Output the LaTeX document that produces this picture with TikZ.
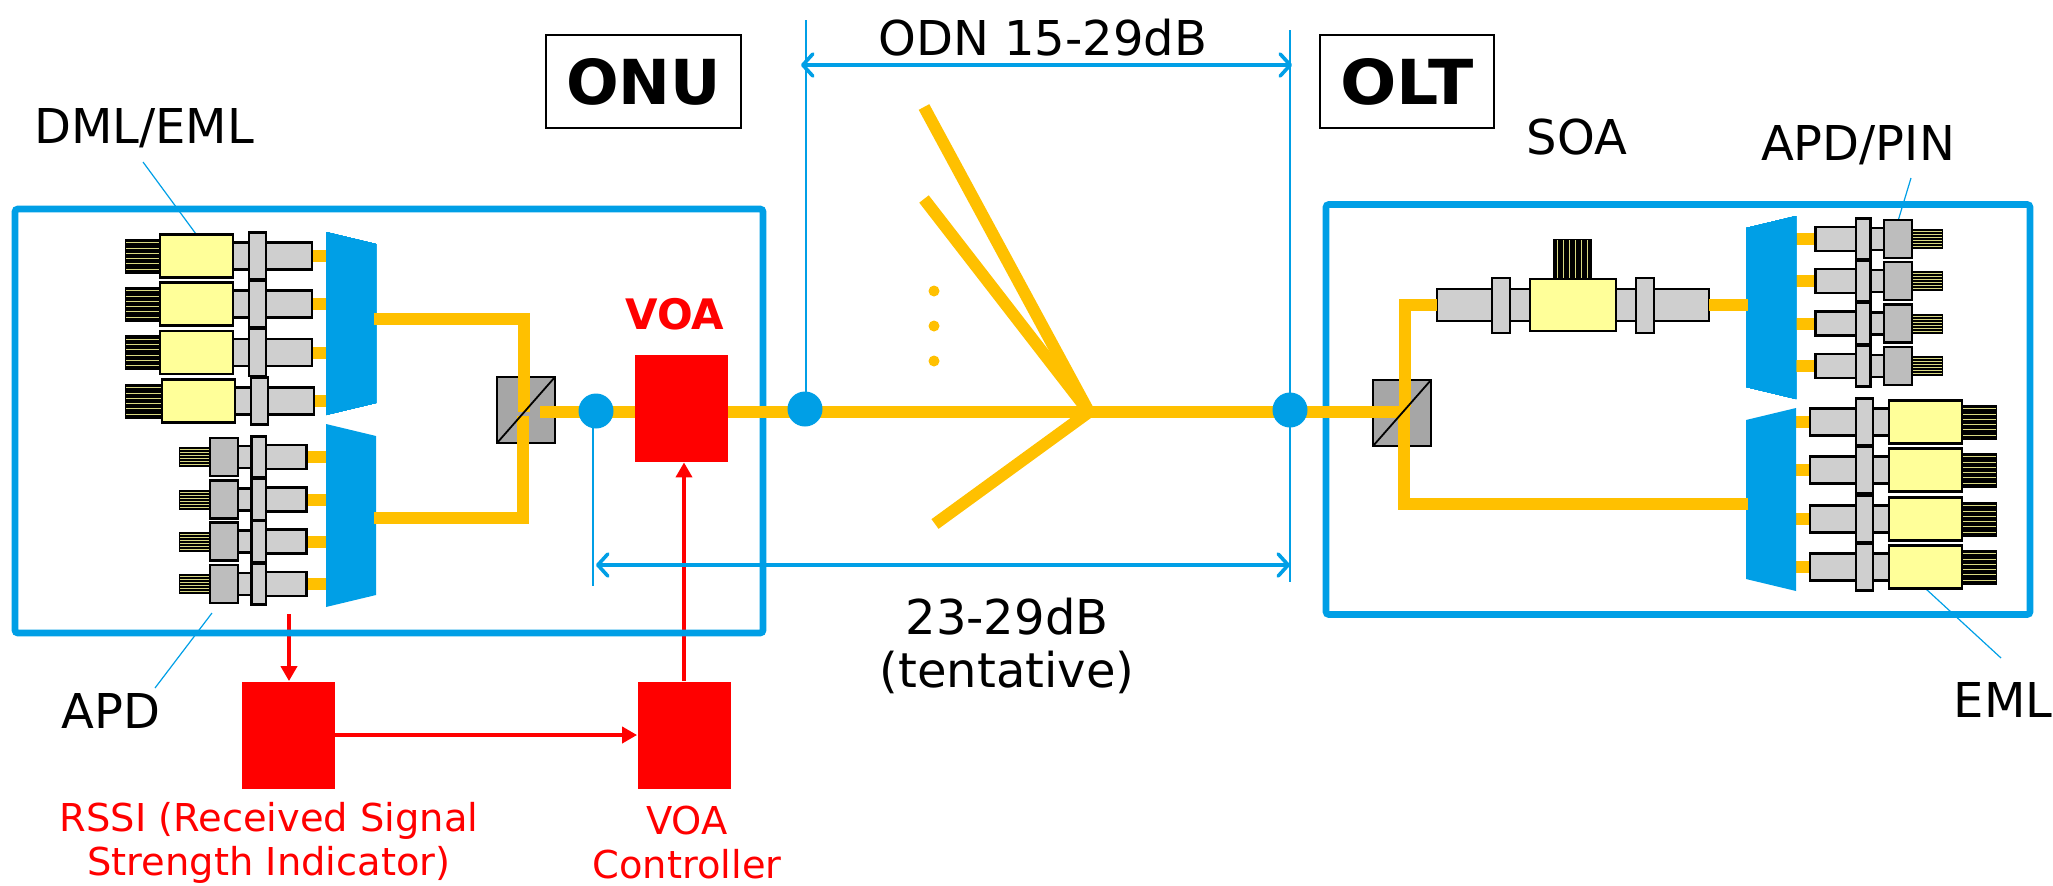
\documentclass[tikz,border=0pt]{standalone}
\usepackage{fontspec}
\setmainfont{DejaVu Sans}
\usetikzlibrary{arrows.meta}

\definecolor{linkblue}{HTML}{009FE6}
\definecolor{fiberyellow}{HTML}{FFC000}
\definecolor{chipyellow}{HTML}{FFFF99}
\definecolor{partgrey}{HTML}{CFCFCF}
\definecolor{apdgrey}{HTML}{BDBDBD}
\definecolor{cubegrey}{HTML}{A6A6A6}

\tikzset{
  part/.style={draw=black,line width=1.15pt},
  fiber/.style={draw=fiberyellow,line width=6pt},
  housing/.style={draw=linkblue,line width=3.4pt,rounded corners=1.5pt},
  leader/.style={draw=linkblue,line width=0.6pt},
  guide/.style={draw=linkblue,line width=0.8pt},
  span/.style={draw=linkblue,line width=1.8pt,{Straight Barb[length=5pt,width=11pt,round]}-{Straight Barb[length=5pt,width=11pt,round]}},
  signal/.style={draw=red,line width=2pt,-{Triangle[length=7.5pt,width=8pt]}},
  redbox/.style={fill=red,inner sep=0pt,minimum width=46.5pt,minimum height=53.5pt},
  joint/.style={circle,fill=linkblue,inner sep=0pt,minimum size=17.5pt},
  titlebox/.style={draw=black,line width=0.7pt,inner sep=0pt,font=\fontsize{31}{36}\selectfont\bfseries},
  lbl/.style={inner sep=0pt,font=\fontsize{24}{28}\selectfont,anchor=base},
  redlbl/.style={inner sep=0pt,text=red,align=center,font=\fontsize{19.2}{22}\selectfont}
}

% cooling comb from x=#1 to x=#2, half height #3
\newcommand{\combbar}[3]{
  \fill[black] (#1,-#3) rectangle (#2,#3);
  \foreach \k in {-0.75,-0.45,-0.15,0.15,0.45,0.75}
    \draw[chipyellow!85!black,line width=0.45pt] ({#1+1},{\k*#3}) -- ({#2-1},{\k*#3});
}
% laser unit, local x runs away from the mux, #1 is the far end of the comb
\newcommand{\laserunit}[1]{
  \fill[fiberyellow] (0,-6) rectangle (15,6);
  \draw[part,fill=partgrey] (14,-13.5) rectangle (60,13.5);
  \draw[part,fill=partgrey] (76,-13.5) rectangle (94,13.5);
  \draw[part,fill=partgrey] (60,-23.5) rectangle (77,23.5);
  \combbar{165}{#1}{17.5}
  \draw[part,fill=chipyellow] (93,-21.5) rectangle (166,21.5);
}
% receiver unit
\newcommand{\apdunit}{
  \fill[fiberyellow] (0,-6) rectangle (20,6);
  \draw[part,fill=partgrey] (19.5,-12) rectangle (60,12);
  \draw[part,fill=partgrey] (74,-11) rectangle (88,11);
  \draw[part,fill=partgrey] (60,-20.5) rectangle (74.5,20.5);
  \combbar{116}{147}{10}
  \draw[part,fill=apdgrey] (88,-19) rectangle (116,19);
}

\begin{document}
\begin{tikzpicture}[x=0.5pt,y=-0.5pt]
  \useasboundingbox (0,0) rectangle (2053,885);

  % control boxes
  \node[redbox] (voa) at (681.5,408.5) {};
  \node[redbox] (rssi) at (288.5,735) {};
  \node[redbox] (vctrl) at (684,735) {};
  \coordinate (tap) at (289,614);
  \draw[signal] (tap) -- (tap |- rssi.north);
  \draw[signal] (rssi.east) -- (vctrl.west);
  \draw[signal] (vctrl.north) -- (vctrl.north |- voa.south);

  % housings
  \draw[housing] (15,209) rectangle (763,633);
  \draw[housing] (1326,204.5) rectangle (2030,614.5);

  % guide lines
  \coordinate (topl) at (806,20);
  \coordinate (topr) at (1290,30);
  \coordinate (lowl) at (593,586);
  \coordinate (lowr) at (1290,582);
  \draw[guide] (topr) -- (lowr);
  \draw[guide] (topl) -- (806,409);
  \draw[guide] (593,411) -- (lowl);
  \coordinate (odnl) at (801,65);
  \coordinate (odnr) at (1292,65);
  \coordinate (pwrl) at (596,565);
  \coordinate (pwrr) at (1290,565);
  \draw[span] (odnl) -- (odnr);
  \draw[span] (pwrl) -- (pwrr);

  % leaders
  \draw[leader] (143,162) -- (196,234);
  \draw[leader] (155,688) -- (212,613);
  \draw[leader] (1911,178) -- (1898,221);
  \draw[leader] (1926,589) -- (2001,658);

  % ONU side units
  \foreach \ypos/\xpos/\combend in {256/326/201,304/326/201,352.5/326/201,401/328/203}
    \begin{scope}[shift={(\xpos,\ypos)},xscale=-1]
      \laserunit{\combend}
    \end{scope}
  \foreach \ypos in {457,499.5,541.5,584}
    \begin{scope}[shift={(326,\ypos)},xscale=-1]
      \apdunit
    \end{scope}
  \fill[linkblue] (326,232) -- (376,244) -- (376,403) -- (326,415) -- cycle;
  \fill[linkblue] (326,424) -- (376,436) -- (376,595) -- (326,607) -- cycle;

  % OLT side units
  \foreach \ypos in {239,281,323.5,366}
    \begin{scope}[shift={(1796,\ypos)}]
      \apdunit
    \end{scope}
  \foreach \ypos in {422,470,519,567}
    \begin{scope}[shift={(1796,\ypos)}]
      \laserunit{201}
    \end{scope}
  \fill[linkblue] (1796,216) -- (1746,228) -- (1746,387) -- (1796,399) -- cycle;
  \fill[linkblue] (1796,408) -- (1746,420) -- (1746,579) -- (1796,591) -- cycle;

  % SOA
  \begin{scope}[shift={(1572.5,281)},rotate=90]
    \combbar{0}{42}{19.5}
  \end{scope}
  \draw[part,fill=partgrey] (1437,289) rectangle (1492,321);
  \draw[part,fill=partgrey] (1510,289) rectangle (1530,321);
  \draw[part,fill=partgrey] (1492,278) rectangle (1510,333);
  \draw[part,fill=partgrey] (1616,289) rectangle (1636,321);
  \draw[part,fill=partgrey] (1654,289) rectangle (1709,321);
  \draw[part,fill=partgrey] (1636,278) rectangle (1654,333);
  \draw[part,fill=chipyellow] (1530,279) rectangle (1616,331);

  % splitter cubes
  \draw[part,fill=cubegrey] (497,377) rectangle (555,443);
  \draw[part,fill=cubegrey] (1373,380) rectangle (1431,446);

  % fibers
  \coordinate (fan) at (1089,412);
  \draw[fiber] (374,319) -- (524,319) -- (524,412);
  \draw[fiber] (374,518) -- (523,518) -- (523,416);
  \draw[fiber] (540,412) -- (voa.west |- 0,412);
  \draw[fiber] (voa.east |- 0,412) -- (fan) -- (1409.5,412);
  \draw[fiber] (924,107) -- (fan);
  \draw[fiber] (924,199) -- (fan);
  \draw[fiber] (935,524) -- (fan);
  \draw[fiber] (1437,305) -- (1405,305) -- (1405,407);
  \draw[fiber] (1748,504) -- (1403.5,504) -- (1403.5,418);
  \fill[fiberyellow] (1709,299) rectangle (1748,311);
  \draw[black,line width=0.9pt] (497,443) -- (555,377);
  \draw[black,line width=0.9pt] (1373,446) -- (1431,380);
  \foreach \ypos in {291,326,361}
    \fill[fiberyellow] (934,\ypos) circle (5.5);

  % joints
  \node[joint] (ja) at (596,411) {};
  \node[joint] (jb) at (805,409) {};
  \node[joint] (jc) at (1290,410) {};

  % labels
  \node[titlebox,minimum width=97.5pt,minimum height=46.5pt] (onu) at (643.5,81.5) {ONU};
  \node[titlebox,minimum width=87pt,minimum height=46.5pt] (olt) at (1407,81.5) {\scalebox{1.07}[1]{OLT}};
  \node[inner sep=0pt,text=red,anchor=base,font=\fontsize{21}{24}\selectfont\bfseries] (voat) at (675,329) {VOA};
  \node[lbl] (odnt) at (1043,55) {ODN 15-29dB};
  \node[lbl] (losst) at (1007,634) {23-29dB};
  \node[lbl] (tentt) at (1007,687) {(tentative)};
  \node[lbl] (dmlt) at (144,143) {DML/EML};
  \node[lbl] (apdt) at (111,728) {APD};
  \node[lbl] (soat) at (1577,154) {SOA};
  \node[lbl] (pint) at (1858,160) {APD/PIN};
  \node[lbl] (emlt) at (2003,717) {EML};
  \node[redlbl] (rssit) at (269,843) {RSSI (Received Signal\\Strength Indicator)};
  \node[redlbl] (vctrlt) at (687,843) {VOA\\Controller};
\end{tikzpicture}
\end{document}
